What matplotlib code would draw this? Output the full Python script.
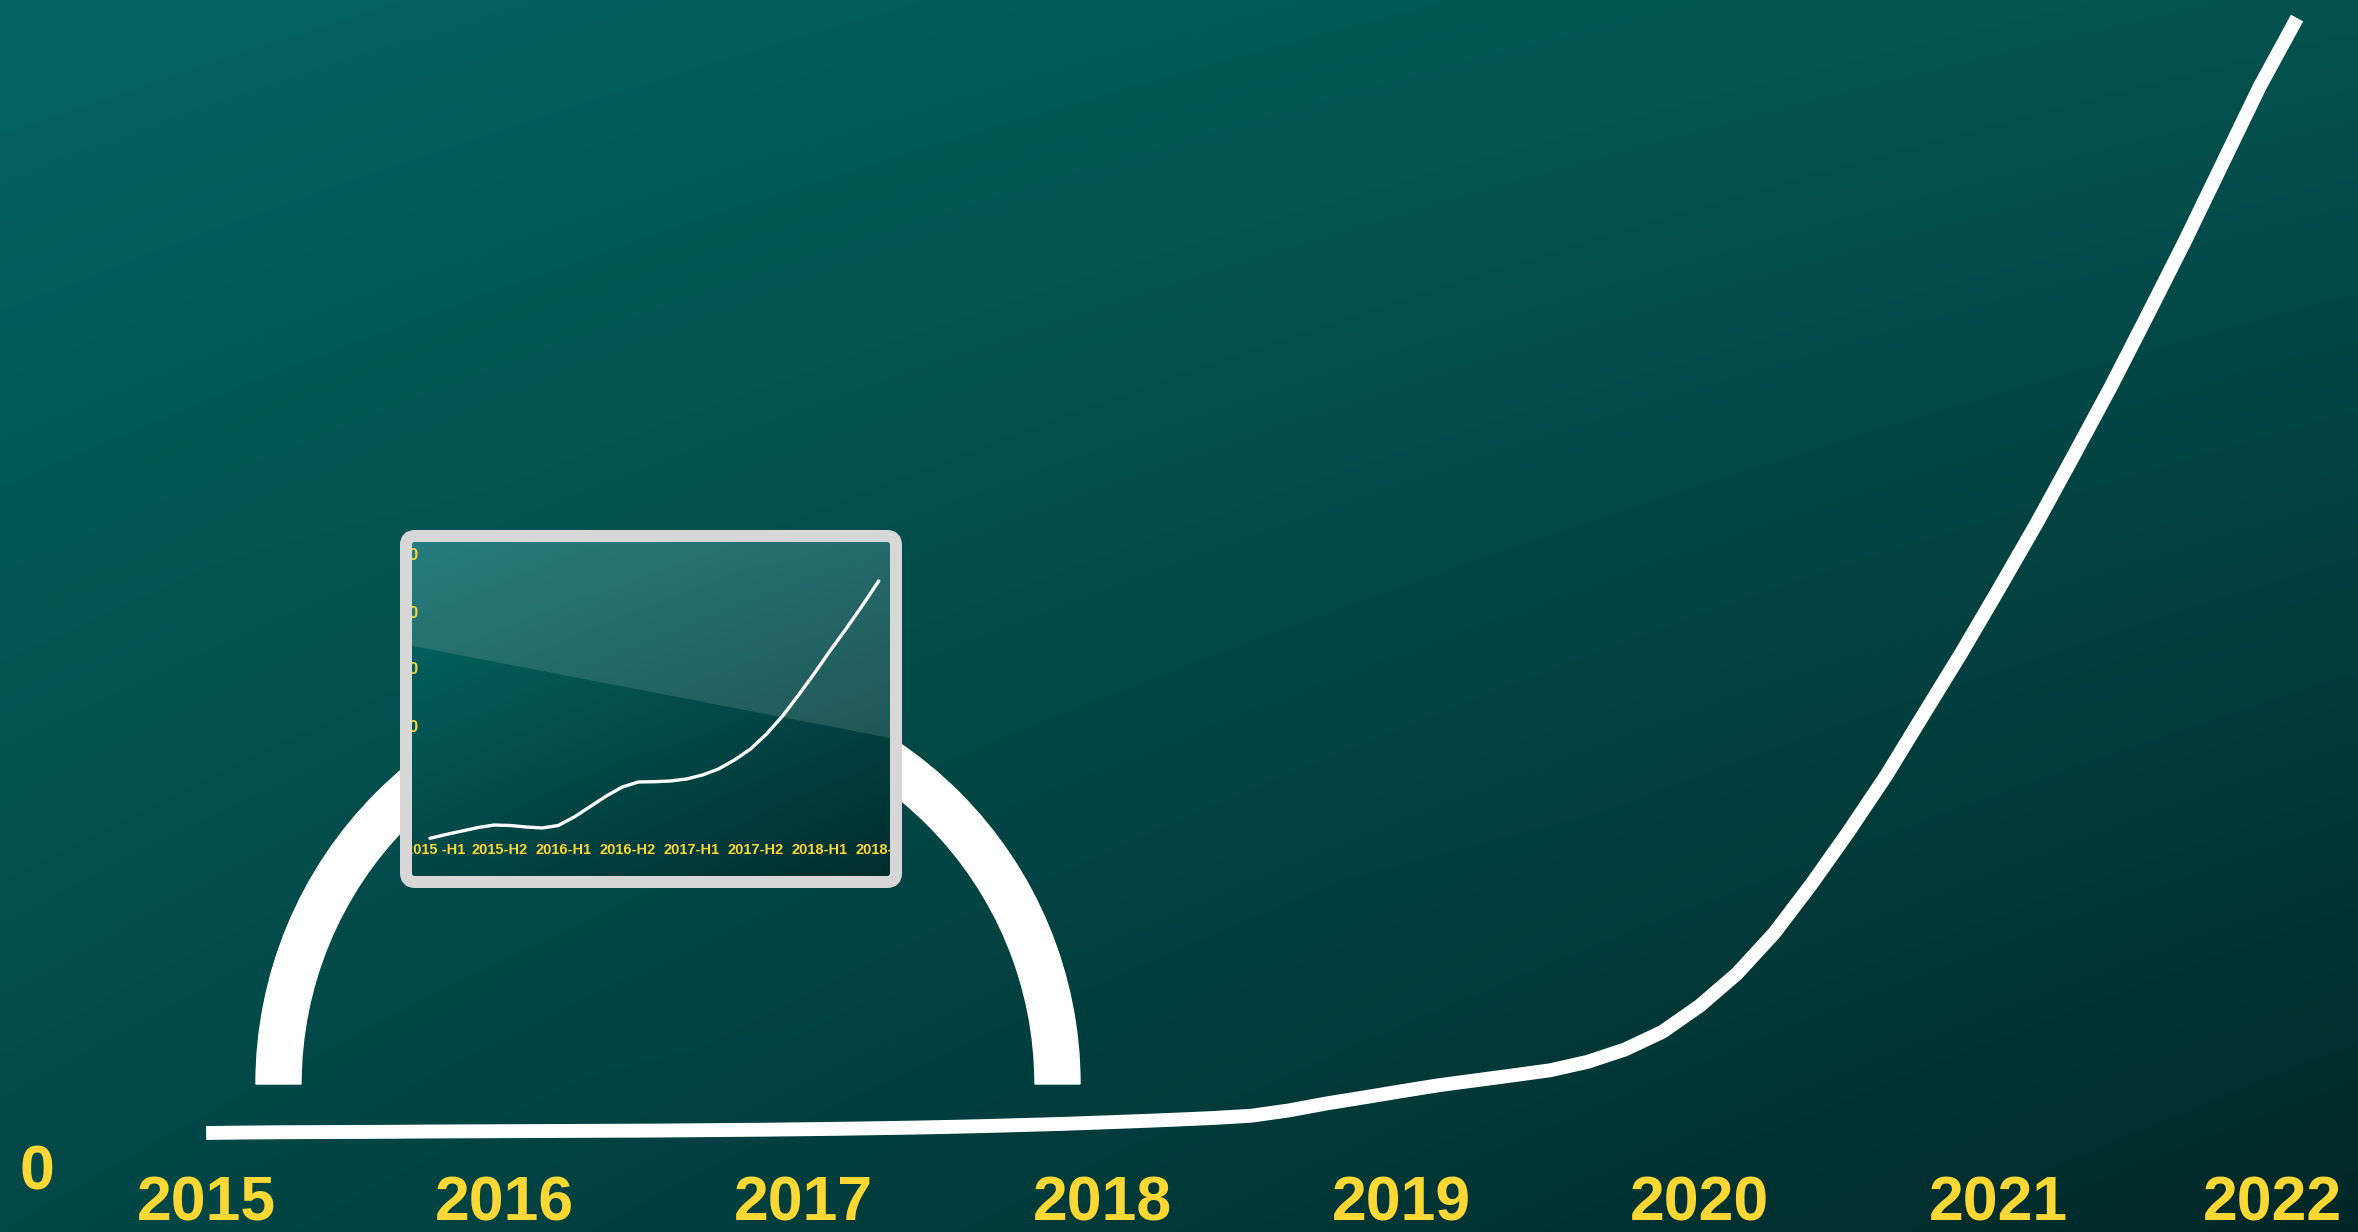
import matplotlib.pyplot as plt
import numpy as np
from matplotlib.patches import Wedge, FancyBboxPatch, Polygon

plt.rcParams['font.family'] = ['Liberation Sans', 'DejaVu Sans']

# main series (read every 1/8 year)
years = np.arange(2015, 2022.001, 0.125)
values = [0, 0.3, 0.5, 0.6, 0.7, 0.8, 1.0, 1.1,
          1.2, 1.3, 1.4, 1.5, 1.6, 1.8, 2.0, 2.2,
          2.5, 2.8, 3.2, 3.6, 4.1, 4.7, 5.4, 6.1,
          7.0, 7.9, 8.9, 10.0, 11.5, 15, 19.6, 23.6,
          27.7, 31.7, 35, 38.3, 41.7, 47.3, 55.5, 67.2,
          84.5, 105.9, 132.9, 165.6, 200.7, 237.7, 278.3, 318.7,
          361, 404.1, 449.4, 495.4, 543.8, 592.9, 644.2, 695.5,
          741]
year_ticks = [2015, 2016, 2017, 2018, 2019, 2020, 2021, 2022]
year_labels = ['2015', '2016', '2017', '2018', '2019', '2020', '2021', '2022']

# inset series (half-year index, read at 1/4 steps)
inset_labels = ['2015 -H1', '2015-H2', '2016-H1', '2016-H2',
                '2017-H1', '2017-H2', '2018-H1', '2018-H2']
inset_x = np.arange(0, 7.001, 0.25)
inset_values = [11.7, 15.5, 19, 22.5, 25, 24.5, 23, 22,
                24.5, 33, 43.5, 54, 63, 68, 68.3, 69,
                71, 75, 81, 90, 101, 116, 134, 155,
                177, 200, 222, 245, 269]
inset_yticks = [123, 180, 237, 294]

YELLOW = '#FDD835'
W, H = 2358, 1232


def gradient(tl, tr, bl, br, n=200):
    u = np.linspace(0, 1, n)[None, :, None]
    v = np.linspace(0, 1, n)[:, None, None]
    tl, tr, bl, br = [np.array(c)[None, None, :] / 255 for c in (tl, tr, bl, br)]
    top = tl * (1 - u) + tr * u
    bot = bl * (1 - u) + br * u
    return top * (1 - v) + bot * v


fig = plt.figure(figsize=(W / 100, H / 100), dpi=100)

# main chart
ax = fig.add_axes([0, 0, 1, 1])
ax.imshow(gradient((4, 100, 98), (3, 82, 80), (2, 72, 72), (1, 40, 40)),
          extent=[0, 1, 0, 1], transform=ax.transAxes, aspect='auto',
          interpolation='bilinear', zorder=0)
ax.plot(years, values, color='white', lw=10, solid_capstyle='butt',
        solid_joinstyle='round', zorder=3)
ax.set_xlim(2014.31, 2022.204)
ax.set_ylim(-65.8, 753)
ax.axis('off')

for i, (t, lab) in enumerate(zip(year_ticks, year_labels)):
    if i == len(year_ticks) - 1:
        ax.text(t + 0.15, -47, lab, ha='right', va='center', color=YELLOW,
                fontsize=45, fontweight='bold')
    else:
        ax.text(t, -47, lab, ha='center', va='center', color=YELLOW,
                fontsize=45, fontweight='bold')
ax.text(2014.434, -26.5, '0', ha='center', va='center', color=YELLOW,
        fontsize=45, fontweight='bold')

# decoration: the arch behind the inset
deco = fig.add_axes([0, 0, 1, 1])
deco.set_xlim(0, W)
deco.set_ylim(H, 0)
deco.axis('off')
deco.add_patch(Wedge((668, 1084), 412, 180, 360, width=45, color='white'))

# inset chart
ins = fig.add_axes([412 / W, (H - 877) / H, 478 / W, 335 / H])
ins.imshow(gradient((6, 105, 104), (5, 85, 85), (2, 70, 70), (1, 45, 45)),
           extent=[0, 1, 0, 1], transform=ins.transAxes, aspect='auto',
           interpolation='bilinear', zorder=0)
ins.add_patch(Polygon([(0, 0.69), (1, 0.415), (1, 1), (0, 1)], closed=True,
                      transform=ins.transAxes, color='white', alpha=0.13,
                      lw=0, zorder=1))
ins.plot(inset_x, inset_values, color='white', lw=2.4, zorder=3,
         solid_capstyle='round', solid_joinstyle='round')
ins.set_xlim(-0.281, 7.176)
ins.set_ylim(-27, 308)
ins.axis('off')
for i, lab in enumerate(inset_labels):
    ins.text(i + 0.08, 0, lab, ha='center', va='center', color=YELLOW,
             fontsize=10.5, fontweight='bold', clip_on=True, zorder=4)
for yt in inset_yticks:
    ins.text(-0.265, yt, '0', ha='center', va='center', color=YELLOW,
             fontsize=12, fontweight='bold', clip_on=True, zorder=4)

# inset frame
frame = fig.add_axes([0, 0, 1, 1])
frame.set_xlim(0, W)
frame.set_ylim(H, 0)
frame.axis('off')
frame.add_patch(FancyBboxPatch((406, 536), 490, 346,
                               boxstyle='round,pad=0,rounding_size=9',
                               fc='none', ec='#d7d7d7', lw=12 * 0.72))

fig.savefig('out.png', dpi=100)
